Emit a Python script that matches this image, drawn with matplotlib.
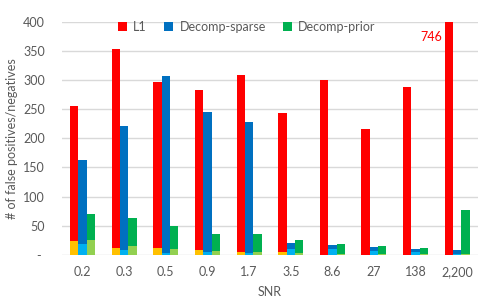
import numpy as np
import matplotlib.pyplot as plt

snr_labels = ["0.2", "0.3", "0.5", "0.9", "1.7", "3.5", "8.6", "27", "138", "2,200"]

# total height of each bar and the lighter lower part
l1_total = [256, 354, 297, 283, 309, 243, 301, 216, 288, 746]
l1_low = [23, 11, 12, 9, 4, 4, 0, 0, 0, 0]
sparse_total = [162, 221, 307, 245, 228, 21, 17, 14, 10, 9]
sparse_low = [19, 8, 3, 5, 3, 10, 10, 7, 4, 2]
prior_total = [70, 63, 49, 35, 35, 25, 19, 15, 12, 77]
prior_low = [26, 15, 10, 6, 4, 3, 1, 1, 1, 1]

series = [
    ("L1", l1_total, l1_low, "#FF0000", "#FFC000"),
    ("Decomp-sparse", sparse_total, sparse_low, "#0070C0", "#00B0F0"),
    ("Decomp-prior", prior_total, prior_low, "#00B050", "#92D050"),
]

plt.rcParams['font.family'] = ['Lato', 'DejaVu Sans']
grey = "#595959"

fig = plt.figure(figsize=(4.79, 3.04), dpi=100)
ax = fig.add_axes([0.129, 0.162, 0.869, 0.766])

x = np.arange(len(snr_labels))
w = 0.2
for i, (name, total, low, col, col_low) in enumerate(series):
    pos = x + (i - 1) * w
    total = np.array(total)
    low = np.array(low)
    ax.bar(pos, low, width=w, color=col_low, zorder=2)
    ax.bar(pos, total - low, bottom=low, width=w, color=col, label=name, zorder=2)

ax.set_ylim(0, 400)
ax.set_xlim(-0.5, len(snr_labels) - 0.5)
ax.set_yticks(np.arange(0, 401, 50))
ax.set_yticklabels(["- "] + [str(v) for v in range(50, 401, 50)])
ax.set_xticks(x)
ax.set_xticklabels(snr_labels)
ax.tick_params(length=0, labelsize=9, colors=grey)
ax.tick_params(axis='x', pad=8)
ax.tick_params(axis='y', pad=12)
ax.grid(axis='y', color="#D9D9D9", linewidth=1, zorder=0)
for s in ax.spines.values():
    s.set_visible(False)

# clipped bar value
ax.text(8.63, 374, "746", color="#FF0000", ha='right', va='center', fontsize=9)

ax.set_xlabel("SNR", fontsize=9, color=grey, labelpad=6)
ax.set_ylabel("# of false positives/negatives", fontsize=9, color=grey, labelpad=4)

ax.legend(loc='center', bbox_to_anchor=(0.445, 0.979), ncol=3, frameon=False,
          fontsize=9, labelcolor=grey, handlelength=0.7, handleheight=0.7,
          columnspacing=1.4, handletextpad=0.5, borderpad=0)

plt.savefig("out.png", dpi=100)
